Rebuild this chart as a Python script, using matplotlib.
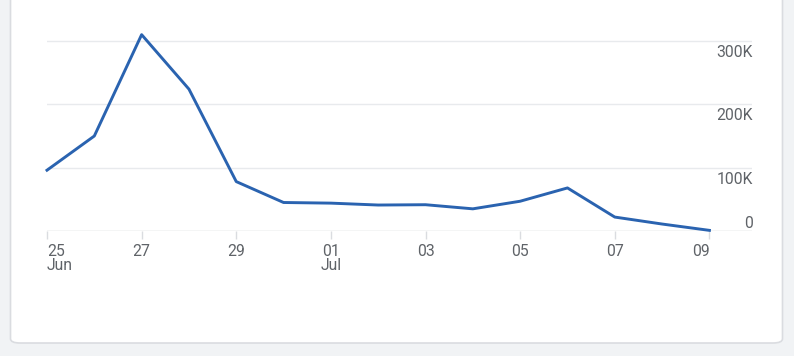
import matplotlib.pyplot as plt
import matplotlib.transforms as mtransforms
from matplotlib.patches import FancyBboxPatch
import pandas as pd

# daily values
days = pd.to_datetime(["2023-06-25", "2023-06-26", "2023-06-27", "2023-06-28", "2023-06-29",
                       "2023-06-30", "2023-07-01", "2023-07-02", "2023-07-03", "2023-07-04",
                       "2023-07-05", "2023-07-06", "2023-07-07", "2023-07-08", "2023-07-09"])
users = [96000, 150000, 310000, 224000, 78000, 45000, 44000, 41000, 41500, 35000,
         47000, 68000, 22000, 11000, 1000]

tick_days = pd.to_datetime(["2023-06-25", "2023-06-27", "2023-06-29", "2023-07-01",
                            "2023-07-03", "2023-07-05", "2023-07-07", "2023-07-09"])
tick_labels = ["25\nJun", "27", "29", "01\nJul", "03", "05", "07", "09"]
y_ticks = [0, 100000, 200000, 300000]
y_labels = ["0", "100K", "200K", "300K"]

plt.rcParams['font.family'] = ['Roboto', 'DejaVu Sans']
txt = "#5f6368"

fig = plt.figure(figsize=(7.94, 3.56), dpi=100)
fig.patch.set_facecolor("#f1f3f5")

# white card behind the chart
card = FancyBboxPatch((10.5 / 794, 13 / 356), 772 / 794, 360 / 356,
                      boxstyle="round,pad=0,rounding_size=0.012",
                      transform=fig.transFigure, facecolor="white",
                      edgecolor="#dadce0", linewidth=1.2, zorder=-10)
fig.patches.append(card)

ax = fig.add_axes([47 / 794, 125 / 356, 705 / 794, 209 / 356])
ax.set_facecolor("none")

ax.plot(days, users, color="#2a63b0", lw=2.1, clip_on=False, zorder=3,
        solid_joinstyle="round")

ax.set_xlim(days[0], days[-1] + pd.Timedelta(hours=21.6))
ax.set_ylim(0, 330000)

for s in ax.spines.values():
    s.set_visible(False)

ax.grid(axis="y", color="#e8eaed", lw=1)
ax.axhline(0, color="#dadce0", lw=1, zorder=1)

ax.set_xticks(tick_days)
ax.set_xticklabels(tick_labels, fontsize=11.3, color=txt, linespacing=0.98)
ax.tick_params(axis="x", length=6, color="#dadce0", width=1, pad=3)
xl = ax.get_xticklabels()
xl[0].set_ha("left")
xl[0].set_multialignment("left")
xl[-1].set_ha("right")

ax.yaxis.tick_right()
ax.set_yticks(y_ticks)
ax.set_yticklabels(y_labels, fontsize=11.3, color=txt)
ax.tick_params(axis="y", length=0, pad=0)
for i, lab in enumerate(ax.get_yticklabels()):
    lab.set_ha("right")
    dy = 0.095 if i == 0 else -0.10
    lab.set_transform(lab.get_transform() +
                      mtransforms.ScaledTranslation(0.01, dy, fig.dpi_scale_trans))

fig.savefig("out.png", dpi=100, facecolor=fig.get_facecolor())
